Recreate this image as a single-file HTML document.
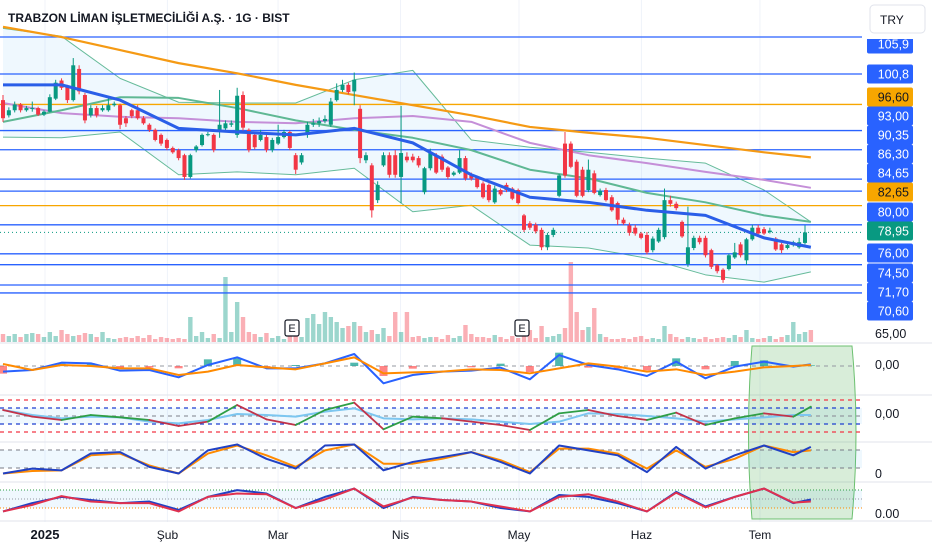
<!DOCTYPE html>
<html><head><meta charset="utf-8"><style>
body{margin:0;background:#fff;width:932px;height:550px;overflow:hidden;font-family:"Liberation Sans","Noto Sans CJK JP",sans-serif}
svg{position:absolute;left:0;top:0}
</style></head><body>
<svg id="c" width="932" height="550"></svg>
<script>
const O=[97.2,95.1,95.8,96.6,95.8,96.0,96.1,95.2,95.6,97.4,99.9,99.1,97.2,101.5,97.9,95.1,96.1,95.8,95.8,96.5,96.5,94.7,95.8,95.8,94.7,93.8,93.1,92.4,91.7,90.6,90.3,89.6,86.6,90.3,91.0,92.4,92.4,93.1,93.3,93.8,92.4,97.9,93.1,92.4,91.7,92.1,90.3,91.2,92.1,92.8,89.6,88.6,92.4,93.8,94.0,94.3,93.8,97.2,98.6,99.3,98.4,96.0,88.9,88.2,83.4,
88.2,89.6,89.6,86.6,89.4,89.4,89.2,84.5,87.8,89.6,89.4,87.9,86.9,87.2,89.2,87.0,86.6,85.7,85.5,83.1,84.8,85.5,85.0,84.8,81.3,80.2,80.0,79.3,76.9,78.6,84.0,91.2,91.2,88.7,87.6,84.8,87.1,84.1,84.8,83.8,83.0,80.7,79.9,79.6,78.8,78.6,76.5,77.7,78.3,83.4,82.9,80.4,74.6,76.8,78.2,78.2,76.5,74.4,73.8,73.9,75.5,77.3,75.1,78.0,79.6,79.4,79.0,78.1,77.3,76.8,77.2,76.9,77.5];
const C=[94.7,95.8,96.6,95.8,96.1,96.1,95.2,95.6,97.6,99.6,98.9,97.2,102.0,98.4,94.4,96.1,95.1,96.1,96.5,96.7,93.8,94.0,95.0,94.7,94.0,93.1,91.7,91.2,90.6,90.0,89.2,86.6,89.6,90.8,92.4,92.5,90.3,93.8,94.0,94.0,97.8,93.4,90.3,90.7,92.4,90.3,91.7,92.1,92.8,90.6,87.6,89.6,93.8,94.0,94.3,94.6,97.0,98.6,99.3,98.3,100.0,89.2,89.6,82.0,85.5,
89.6,86.9,86.9,89.9,88.9,88.9,88.2,87.8,89.9,87.2,87.6,86.6,87.2,89.2,86.4,86.4,85.2,83.8,83.4,85.0,84.2,84.8,83.6,83.0,79.3,79.6,79.1,76.9,78.6,79.3,86.8,86.8,88.0,84.0,84.0,87.6,84.4,84.7,83.4,82.0,80.7,80.2,78.9,78.8,78.2,76.2,78.1,79.3,83.4,82.9,82.3,78.4,76.9,78.2,77.6,75.8,74.2,73.6,72.4,75.8,76.2,75.8,78.0,79.6,78.8,78.8,79.2,76.6,76.5,77.2,77.6,77.6,78.95];
const H=[97.9,96.2,97.0,96.8,96.4,97.0,96.3,95.8,98.0,100.0,100.2,99.3,103.0,102.0,98.2,96.5,96.4,96.5,97.6,97.0,96.7,95.0,96.0,96.5,95.0,94.0,93.3,92.6,91.9,90.8,90.5,89.8,89.8,91.0,92.6,92.8,92.6,98.6,94.4,94.4,98.9,98.4,93.3,92.8,93.1,92.4,92.0,93.8,93.1,93.0,89.9,89.9,94.2,94.6,94.8,95.1,97.5,99.5,100.0,99.6,101.0,96.5,90.0,88.5,86.0,
90.0,90.0,90.3,96.4,90.0,89.8,89.5,88.0,90.5,89.9,89.7,88.1,87.4,90.3,89.5,87.2,86.8,86.0,85.7,85.4,85.0,85.8,85.2,85.0,81.5,80.5,80.3,79.6,78.9,79.6,87.0,92.8,91.5,89.0,88.0,89.0,87.5,85.0,85.1,84.1,83.2,81.0,80.3,80.0,79.0,79.0,78.4,79.6,85.0,84.0,83.2,80.6,82.5,78.5,78.5,78.5,76.7,74.6,74.0,76.0,77.5,77.6,78.2,80.0,80.0,79.7,79.6,78.3,77.5,77.4,77.8,78.2,79.9];
const L=[94.2,94.8,95.5,95.5,95.6,95.6,95.0,95.0,95.5,97.2,98.6,96.8,97.0,98.0,94.0,94.8,94.8,95.6,95.6,96.3,93.2,93.5,94.7,94.5,93.8,92.8,91.5,90.9,90.3,89.8,88.9,86.2,86.4,90.0,90.8,92.2,90.0,92.0,93.0,93.5,92.0,93.0,90.0,90.4,91.5,90.0,90.0,91.0,91.9,90.3,87.0,88.3,92.0,93.5,93.5,94.0,93.5,97.0,98.3,98.0,96.5,88.5,88.5,81.0,83.0,
88.0,86.5,86.5,83.0,88.6,88.6,87.9,84.2,87.5,87.0,87.3,86.3,86.7,87.0,86.1,86.1,85.0,83.6,83.1,82.9,84.0,84.5,83.4,82.8,79.0,79.3,78.8,76.5,76.5,78.3,83.8,86.5,87.8,83.8,83.8,84.5,84.2,83.9,83.2,81.8,80.0,80.0,78.5,78.5,78.0,75.9,76.2,77.5,78.0,82.5,82.0,78.2,74.2,76.5,77.3,75.5,73.9,73.3,72.0,73.7,75.3,75.5,74.5,77.8,78.6,78.6,78.8,76.4,76.1,76.6,77.0,76.7,77.3];
const VOL=[8,6,8,5,8,9,8,5,10,6,12,8,6,7,9,8,5,10,4,3,4,5,4,6,4,7,3,5,4,3,4,3,25,6,10,4,8,4,65,10,40,25,10,8,5,9,4,6,3,12,10,5,24,28,18,30,25,20,14,16,20,16,10,12,8,14,6,30,10,30,5,6,4,5,5,3,7,4,6,17,8,5,5,4,7,5,3,6,4,14,12,4,16,5,6,8,14,80,30,12,15,34,8,5,3,3,4,3,5,6,3,4,3,16,8,5,3,5,4,3,5,3,4,5,4,7,5,12,4,3,4,6,3,5,7,20,8,10,12];
const LINE_IDX=[0,10,20,30,40,50,60,70,80,90,100,110,120,130,138];
const MA200=[107.3,105.9,104.1,102.3,100.9,99.3,97.9,96.5,95.1,93.5,92.7,92.0,91.0,90.0,89.3];
const MA100=[96.8,95.4,94.9,94.7,94.2,94.0,94.7,95.0,94.2,91.3,89.6,88.5,87.3,86.2,85.1];
const MA50=[94.2,95.8,97.6,97.5,96.1,94.4,93.1,92.0,90.3,87.6,86.4,84.4,83.1,81.3,80.4];
const MA20=[99.3,99.3,97.2,93.3,92.8,92.4,93.3,91.3,86.9,83.8,83.1,82.0,81.3,78.2,76.9];
const BBU=[107.1,106.0,100.2,96.9,96.8,96.8,100.0,101.3,91.7,90.7,90.0,89.2,88.5,84.8,80.4];
const BBL=[92.1,92.0,92.8,86.9,87.3,86.9,87.8,81.8,82.7,77.2,76.8,75.4,73.1,72.1,73.5];
const LEVELS_BLUE=[105.9,100.8,93.0,90.35,86.3,84.65,80.0,76.0,74.5,71.7,70.6];
const LEVELS_ORANGE=[96.6,82.65];
const LAST=78.95;
const IND_IDX=[0,5,10,15,20,25,30,35,40,45,50,55,60,65,70,75,80,85,90,95,100,105,110,115,120,125,130,135,138];
const MACD=[-1.7,-1.2,1.0,0.8,-1.4,-1.2,-3.4,0.3,2.6,-0.7,-0.7,0.8,3.6,-5.2,-2.7,-1.7,-1.4,-0.5,-4.0,3.3,0.3,-1.0,-3.0,1.3,-3.7,-0.2,1.3,-0.2,0.5];
const SIGNAL=[0.6,-1.2,0.3,0,-0.7,-0.7,-2.7,-1.7,0.3,-0.4,-1.0,0.8,2.6,-2.2,-1.9,-1.7,-1.0,-1.2,-2.2,-0.7,0.8,-0.2,-1.7,-1.0,-2.7,-1.7,-0.4,0,0.3];
const CCI=[1.8,-0.2,-1.2,0.3,-0.4,-1.2,-3.0,-1.7,3.3,-1.0,-2.7,1.8,4.0,-4.0,-0.2,-0.7,-1.7,-2.7,-4.2,0.8,1.8,0,-1.2,1.0,-2.7,-0.7,0.8,-0.2,2.8];
const CCI_MA=[1.8,0.3,-0.7,-0.2,-0.4,-1.7,-2.2,-1.2,0.6,0.3,-0.2,1.3,2.3,-0.7,-1.0,-0.7,-1.0,-1.7,-2.4,-1.7,0.8,0.6,0,-0.7,-1.7,-1.0,-0.4,0.3,0.3];
const STOCH_K=[10,24,19,67,71,29,10,76,93,52,24,90,93,19,43,57,71,43,10,90,76,62,14,86,24,62,90,62,86];
const STOCH_D=[10,17,19,62,67,33,10,67,90,62,29,76,93,38,38,52,71,48,14,81,81,67,24,76,29,52,90,71,76];
const RSI_A=[6,38,62,50,38,44,12,62,88,75,19,62,94,19,62,50,44,19,6,69,62,38,6,81,25,62,94,38,52];
const RSI_B=[6,31,65,44,38,38,6,62,75,72,19,52,94,25,60,50,44,25,6,62,72,44,6,78,22,62,94,40,44];
const MONTHS=["2025","Şub","Mar","Nis","May","Haz","Tem"];
const MONTH_DAY=[0,31,59,90,120,151,181];

const NS="http://www.w3.org/2000/svg";
const svg=document.getElementById('c');
function el(t,a,p){const e=document.createElementNS(NS,t);for(const k in a)e.setAttribute(k,a[k]);(p||svg).appendChild(e);return e;}
const N=C.length;
const X0=3,X1=805;
const xi=i=>X0+i*(X1-X0)/(N-1);
const py=p=>74+(100.8-p)*7.25;
const dayX=d=>45+d*3.95;
const G='#089981',R='#f23645',BL='#2962ff',OR='#f7a600';

MONTH_DAY.forEach(d=>{const g=el('line',{x1:dayX(d),x2:dayX(d),y1:0,y2:522,stroke:'#f0f3fa','stroke-width':1});});
[343,395,442,482,521].forEach(y=>{const s=el('line',{x1:0,x2:932,y1:y,y2:y,stroke:'#e0e3eb'});});

const defs=el('defs',{});
const cp=el('clipPath',{id:'mc'},defs);el('rect',{x:0,y:0,width:862,height:342},cp);
const main=el('g',{'clip-path':'url(#mc)'});

let up=LINE_IDX.map((k,j)=>[xi(k),py(BBU[j])]), lo=LINE_IDX.map((k,j)=>[xi(k),py(BBL[j])]);
const bf=el('path',{d:'M'+up.map(p=>p.join(',')).join('L')+'L'+lo.reverse().map(p=>p.join(',')).join('L')+'Z',fill:'rgba(33,150,243,0.07)'},main);

function line(arr,idx,color,w,name,fy,g){const pts=idx.map((k,j)=>xi(k)+','+fy(arr[j]));const p=el('polyline',{points:pts.join(' '),fill:'none',stroke:color,'stroke-width':w,'stroke-linejoin':'round'},g||main);return p;}
line(BBU,LINE_IDX,'#66bb9a',1,'bollinger-upper',py);
line(BBL,LINE_IDX,'#66bb9a',1,'bollinger-lower',py);

VOL.forEach((v,i)=>{const b=el('rect',{x:xi(i)-2.2,y:342-v,width:4.4,height:v,fill:C[i]>=O[i]?'rgba(8,153,129,0.4)':'rgba(242,54,69,0.4)'},main);});

LEVELS_BLUE.forEach(p=>{const l=el('line',{x1:0,x2:862,y1:py(p),y2:py(p),stroke:BL,'stroke-width':1.3},main);});
LEVELS_ORANGE.forEach(p=>{const l=el('line',{x1:0,x2:862,y1:py(p),y2:py(p),stroke:OR,'stroke-width':1.3},main);});
const ll=el('line',{x1:0,x2:862,y1:py(LAST),y2:py(LAST),stroke:G,'stroke-width':1,'stroke-dasharray':'1,3'},main);

line(MA200,LINE_IDX,'#f59a14',2.2,'ma200-line',py);
line(MA100,LINE_IDX,'#c58fd8',2,'ma100-line',py);
line(MA50,LINE_IDX,'#5fb894',2,'ma50-line',py);

for(let i=0;i<N;i++){const col=C[i]>=O[i]?G:R;const x=xi(i);
const w=el('line',{x1:x,x2:x,y1:py(H[i]),y2:py(L[i]),stroke:col,'stroke-width':1},main);
const t=Math.min(py(O[i]),py(C[i]));const h=Math.max(1,Math.abs(py(O[i])-py(C[i])));
const b=el('rect',{x:x-2,y:t,width:4,height:h,fill:col},main);}
line(MA20,LINE_IDX,'#2a5ee8',3,'ma20-line',py);

[292,522].forEach(x=>{const g=el('g',{});
el('rect',{x:x-7,y:320,width:14,height:16,rx:2,fill:'#fff',stroke:'#131722','stroke-width':1.2},g);
const t=el('text',{x:x,y:332,'font-size':11,'text-anchor':'middle',fill:'#131722'},g);t.textContent='E';});

const gz=el('path',{d:'M752,346 Q745,432 752,519 L852,519 Q860,432 852,346 Z',fill:'rgba(76,175,80,0.22)',stroke:'#6cc070','stroke-width':1});


const m0=366,mk=3.33;const fm=v=>m0-v*mk;
const z1=el('line',{x1:0,x2:862,y1:m0,y2:m0,stroke:'#9598a1','stroke-dasharray':'4,4'});
IND_IDX.forEach((k,j)=>{const d=MACD[j]-SIGNAL[j];const y=fm(Math.max(d,0));const b=el('rect',{x:xi(k)-4,y:y,width:8,height:Math.abs(d)*mk,fill:d>=0?'rgba(38,166,154,0.8)':'rgba(255,82,82,0.7)'});});
line(MACD,IND_IDX,'#2962ff',2,'macd-line',fm,svg);
line(SIGNAL,IND_IDX,'#ff8a00',2,'signal-line',fm,svg);

const f2=v=>416-v*3.33;
const band=el('rect',{x:0,y:408,width:862,height:16,fill:'rgba(33,150,243,0.07)'});
[[400,'#f23645'],[408,'#1e3fd0'],[416,'#9598a1'],[424,'#1e3fd0'],[432,'#f23645']].forEach(a=>{const l=el('line',{x1:0,x2:862,y1:a[0],y2:a[0],stroke:a[1],'stroke-dasharray':'4,4','stroke-width':1.2});});
line(CCI_MA,IND_IDX,'#7cc6f0',2,'cci-ma-line',f2,svg);
for(let j=0;j<IND_IDX.length-1;j++){const s=el('line',{x1:xi(IND_IDX[j]),y1:f2(CCI[j]),x2:xi(IND_IDX[j+1]),y2:f2(CCI[j+1]),stroke:CCI[j+1]>=CCI_MA[j+1]?'#2e9e45':'#c2334a','stroke-width':1.8,'stroke-linecap':'round'});}

const f3=v=>477-v*0.35;
const b3=el('rect',{x:0,y:450,width:862,height:18,fill:'rgba(33,150,243,0.07)'});
[450,468].forEach(y=>{const l=el('line',{x1:0,x2:862,y1:y,y2:y,stroke:'#787b86','stroke-dasharray':'4,4'});});
line(STOCH_D,IND_IDX,'#ff8a00',2,'stoch-d-line',f3,svg);
line(STOCH_K,IND_IDX,'#2141c4',2,'stoch-k-line',f3,svg);

const f4=v=>513-v*0.26;
const b4=el('rect',{x:0,y:490,width:862,height:18,fill:'rgba(33,150,243,0.07)'});
[[490,'#2e9e45'],[499,'#9598a1'],[508,'#ff8a00']].forEach(a=>{const l=el('line',{x1:0,x2:862,y1:a[0],y2:a[0],stroke:a[1],'stroke-dasharray':'1,2'});});
line(RSI_A,IND_IDX,'#2141c4',2,'osc-blue-line',f4,svg);
line(RSI_B,IND_IDX,'#e0304e',2,'osc-red-line',f4,svg);

MONTHS.forEach((m,i)=>{const t=el('text',{x:dayX(MONTH_DAY[i]),y:539,'font-size':i==0?13:12,'font-weight':i==0?'bold':'normal','text-anchor':'middle',fill:'#131722'});t.textContent=m;});

const labels=[["105,9",44,BL,'#fff'],["100,8",74,BL,'#fff'],["96,60",97,OR,'#131722'],["93,00",116,BL,'#fff'],["90,35",135,BL,'#fff'],["86,30",154,BL,'#fff'],["84,65",173,BL,'#fff'],["82,65",192,OR,'#131722'],["80,00",212,BL,'#fff'],["78,95",231,G,'#fff'],["76,00",253,BL,'#fff'],["74,50",273,BL,'#fff'],["71,70",292,BL,'#fff'],["70,60",311,BL,'#fff']];
labels.forEach(l=>{const g=el('g',{});
el('rect',{x:867,y:l[1]-9.5,width:46,height:19,rx:2,fill:l[2]},g);
const t=el('text',{x:909,y:l[1]+4.5,'font-size':12.5,'text-anchor':'end',fill:l[3]},g);t.textContent=l[0];});
const wb=el('rect',{x:863,y:0,width:69,height:39,fill:'#fff'});
[["65,00",338],["0,00",369],["0,00",418],["0",478],["0.00",518]].forEach(a=>{const t=el('text',{x:875,y:a[1],'font-size':12.5,fill:'#131722'});t.textContent=a[0];});

const ti=el('text',{x:8,y:22,'font-size':12,'font-weight':'bold',fill:'#131722'});ti.textContent='TRABZON LİMAN İŞLETMECİLİĞİ A.Ş. · 1G · BIST';
const cb=el('g',{});
el('rect',{x:870,y:5,width:55,height:28,rx:4,fill:'#fff',stroke:'#e0e3eb'},cb);
const ct=el('text',{x:880,y:24,'font-size':12,fill:'#131722'},cb);ct.textContent='TRY';
</script>
</body></html>
